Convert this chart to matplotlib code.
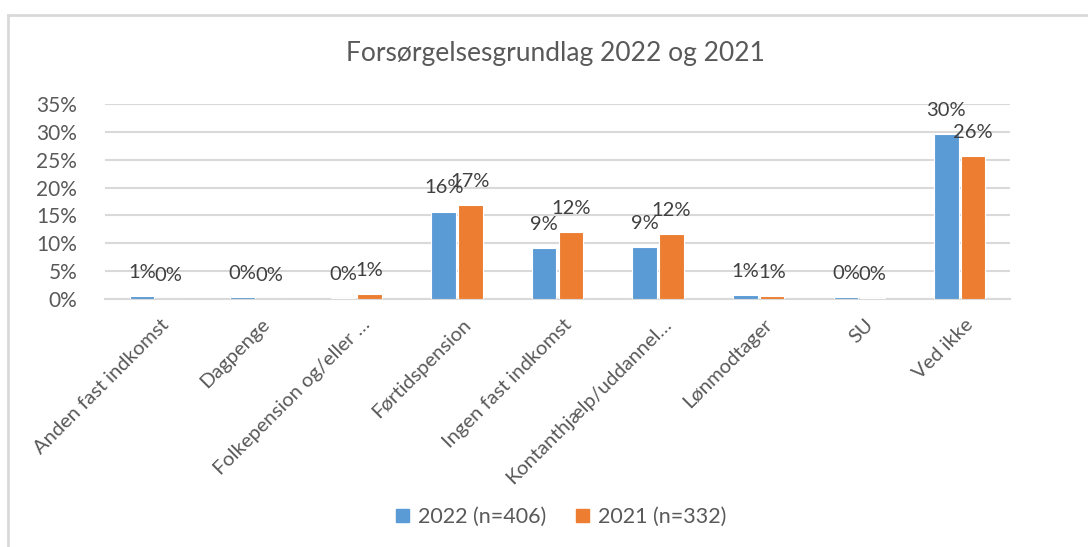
import matplotlib
matplotlib.use("Agg")
import matplotlib.pyplot as plt
from matplotlib.lines import Line2D
import numpy as np

categories = [
    "Anden fast indkomst",
    "Dagpenge",
    "Folkepension og/eller …",
    "Førtidspension",
    "Ingen fast indkomst",
    "Kontanthjælp/uddannel…",
    "Lønmodtager",
    "SU",
    "Ved ikke",
]
share_2022 = [0.006, 0.004, 0.002, 0.157, 0.091, 0.093, 0.007, 0.004, 0.296]
share_2021 = [0.000, 0.000, 0.009, 0.169, 0.120, 0.117, 0.006, 0.002, 0.256]
series_names = ["2022 (n=406)", "2021 (n=332)"]

BLUE = "#5B9BD5"
ORANGE = "#ED7D31"
TEXT = "#595959"
GRID = "#D9D9D9"

plt.rcParams["font.family"] = ["Lato", "DejaVu Sans"]

fig = plt.figure(figsize=(10.88, 5.47), dpi=100)
ax = fig.add_axes([105 / 1088, 1 - 299 / 547, 905 / 1088, 195 / 547])

x = np.arange(len(categories))
w = 0.245
b1 = ax.bar(x - w / 2 - 0.01, share_2022, w, color=BLUE, edgecolor="white", linewidth=0.8, zorder=3)
b2 = ax.bar(x + w / 2 + 0.01, share_2021, w, color=ORANGE, edgecolor="white", linewidth=0.8, zorder=3)

# Excel-style labels: centred on the bar, a fixed distance above its top
for bars, vals in ((b1, share_2022), (b2, share_2021)):
    for r, v in zip(bars, vals):
        ax.annotate(f"{round(v * 100):.0f}%", (r.get_x() + r.get_width() / 2, v),
                    xytext=(0, 17), textcoords="offset points",
                    ha="center", va="center", fontsize=14.5, color="#404040")

ax.set_ylim(0, 0.35)
ax.set_xlim(-0.5, len(categories) - 0.5)
ax.set_yticks(np.arange(0, 0.351, 0.05))
ax.set_yticklabels([f"{t}%" for t in range(0, 36, 5)])
ax.yaxis.grid(True, color=GRID, linewidth=1.5, zorder=0)
ax.set_axisbelow(True)
for s in ("top", "right", "left"):
    ax.spines[s].set_visible(False)
ax.spines["bottom"].set_color(GRID)
ax.spines["bottom"].set_linewidth(1.5)
ax.tick_params(axis="both", length=0, labelcolor=TEXT)
ax.tick_params(axis="y", labelsize=15, pad=20)
ax.set_xticks(x + 0.05)
ax.set_xticklabels(categories, rotation=45, ha="right", rotation_mode="anchor")
ax.tick_params(axis="x", labelsize=14.5, pad=12)

fig.text(555 / 1088, 1 - 53 / 547, "Forsørgelsesgrundlag 2022 og 2021",
         ha="center", va="center", fontsize=19, color=TEXT)

handles = [plt.Rectangle((0, 0), 1, 1, color=BLUE), plt.Rectangle((0, 0), 1, 1, color=ORANGE)]
fig.legend(handles, series_names, loc="center", bbox_to_anchor=(561 / 1088, 1 - 517 / 547),
           ncol=2, frameon=False, fontsize=15.5, labelcolor=TEXT,
           handlelength=0.6, handleheight=0.6, handletextpad=0.4, columnspacing=1.4)

# chart frame (only top and left visible in the crop)
fig.add_artist(Line2D([8 / 1088, 8 / 1088], [0, 1 - 15 / 547], color=GRID, linewidth=2, transform=fig.transFigure))
fig.add_artist(Line2D([8 / 1088, 1], [1 - 15 / 547, 1 - 15 / 547], color=GRID, linewidth=2, transform=fig.transFigure))

fig.savefig("out.png", dpi=100, facecolor="white")
